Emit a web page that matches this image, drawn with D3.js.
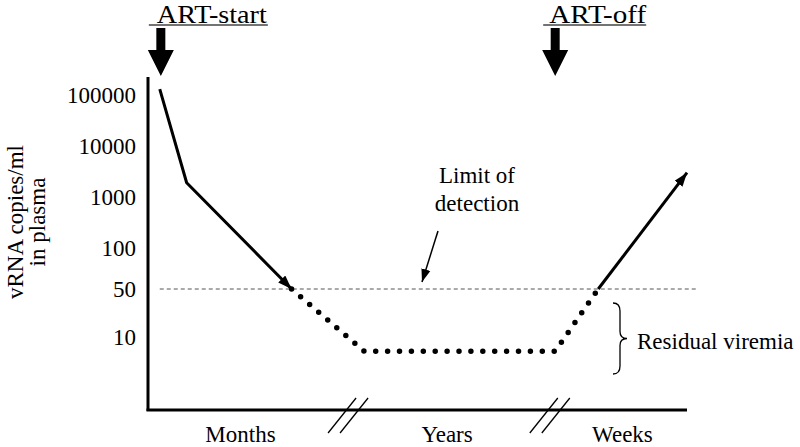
<html>
<head>
<meta charset="utf-8">
<title>Viral load under ART</title>
<style>
  body { margin: 0; background: #fff; }
  svg text { font-family: "Liberation Serif", "Times New Roman", serif; fill: #000; }
</style>
</head>
<body>
<div id="chart"></div>
<script src="https://cdn.jsdelivr.net/npm/d3@7"></script>
<script>
// schematic time runs 0..100 along the x axis, viral load in copies/ml
var yTicks = [10, 50, 100, 1000, 10000, 100000];
var treated = [{t: 2, v: 130000}, {t: 7, v: 1900}, {t: 26.5, v: 50}];
var residual = [{t: 26.5, v: 50}, {t: 40, v: 5}, {t: 75.5, v: 5}, {t: 83.5, v: 50}];
var rebound = [{t: 83.5, v: 50}, {t: 100, v: 3000}];
var detectionLimit = 50;
var events = [{label: "ART-start", t: 2.2}, {label: "ART-off", t: 75.5}];
var phases = [{label: "Months", t: 17}, {label: "Years", t: 55.4}, {label: "Weeks", t: 88}];
var breaks = [37, 74.5];

var width = 800, height = 447;

var svg = d3.select("#chart").append("svg")
    .attr("width", width)
    .attr("height", height);

var x = d3.scaleLinear().domain([0, 100]).range([149, 687]);
// the picture squeezes the decades unevenly, so the log scale is piecewise
var y = d3.scaleLog()
    .domain([1, 10, 50, 100, 1000, 10000, 100000, 1000000])
    .range([384, 337, 289, 248, 197, 146, 95, 44]);

var defs = svg.append("defs");
defs.append("marker")
    .attr("id", "head")
    .attr("viewBox", "0 -5 14 10")
    .attr("refX", 14).attr("refY", 0)
    .attr("markerWidth", 14).attr("markerHeight", 10)
    .attr("markerUnits", "userSpaceOnUse")
    .attr("orient", "auto")
    .append("path").attr("d", "M0,-5L14,0L0,5Z").attr("fill", "#000");
defs.append("marker")
    .attr("id", "thin")
    .attr("viewBox", "0 -5 14 10")
    .attr("refX", 14).attr("refY", 0)
    .attr("markerWidth", 13).attr("markerHeight", 10)
    .attr("markerUnits", "userSpaceOnUse")
    .attr("orient", "auto")
    .append("path").attr("d", "M0,-5L14,0L0,5Z").attr("fill", "#000");

// axes lines
svg.append("line")
    .attr("x1", x(0) - 1).attr("x2", x(0) - 1)
    .attr("y1", 77).attr("y2", 411)
    .attr("stroke", "#000").attr("stroke-width", 3);
svg.append("line")
    .attr("x1", x(0) - 2.5).attr("x2", x(100))
    .attr("y1", 410).attr("y2", 410)
    .attr("stroke", "#000").attr("stroke-width", 3);

var yAxis = svg.append("g")
    .attr("transform", "translate(" + (x(0) - 1) + ",0)")
    .call(d3.axisLeft(y).tickValues(yTicks).tickSize(0).tickPadding(12).tickFormat(d3.format("d")));
yAxis.select(".domain").remove();
yAxis.selectAll("text")
    .style("font-family", "'Liberation Serif', 'Times New Roman', serif")
    .style("font-size", "23px")
    .attr("fill", "#000");

// y label
var yl = svg.append("g").attr("transform", "translate(0,222) rotate(-90)");
yl.append("text").attr("x", 0).attr("y", 15)
    .attr("text-anchor", "middle").attr("dominant-baseline", "central")
    .style("font-size", "23px").text("vRNA copies/ml");
yl.append("text").attr("x", 0).attr("y", 37)
    .attr("text-anchor", "middle").attr("dominant-baseline", "central")
    .style("font-size", "23px").text("in plasma");

// axis breaks
breaks.forEach(function (b) {
    [-6, 6].forEach(function (off) {
        svg.append("line")
            .attr("x1", x(b) + off - 14).attr("y1", 433)
            .attr("x2", x(b) + off + 14).attr("y2", 398)
            .attr("stroke", "#000").attr("stroke-width", 1.3);
    });
});

// phase labels
svg.selectAll(".phase")
    .data(phases).enter()
    .append("text")
    .attr("class", "phase")
    .attr("x", function (d) { return x(d.t); })
    .attr("y", 442)
    .attr("text-anchor", "middle")
    .style("font-size", "23px")
    .text(function (d) { return d.label; });

// limit of detection
svg.append("line")
    .attr("x1", x(2)).attr("x2", x(102))
    .attr("y1", y(detectionLimit)).attr("y2", y(detectionLimit))
    .attr("stroke", "#555").attr("stroke-width", 1)
    .attr("stroke-dasharray", "4,3");

var line = d3.line()
    .x(function (d) { return x(d.t); })
    .y(function (d) { return y(d.v); });

svg.append("path")
    .datum(treated)
    .attr("d", line)
    .attr("fill", "none")
    .attr("stroke", "#000").attr("stroke-width", 3)
    .attr("stroke-linejoin", "round")
    .attr("marker-end", "url(#head)");

svg.append("path")
    .datum(residual)
    .attr("d", line)
    .attr("fill", "none")
    .attr("stroke", "#000").attr("stroke-width", 5.5)
    .attr("stroke-linecap", "round")
    .attr("stroke-dasharray", "0,11.9");

svg.append("path")
    .datum(rebound)
    .attr("d", line)
    .attr("fill", "none")
    .attr("stroke", "#000").attr("stroke-width", 3)
    .attr("marker-end", "url(#head)");

// annotation: limit of detection
svg.append("text").attr("x", 477).attr("y", 183)
    .attr("text-anchor", "middle").style("font-size", "23px").text("Limit of");
svg.append("text").attr("x", 477).attr("y", 211)
    .attr("text-anchor", "middle").style("font-size", "23px").text("detection");
svg.append("line")
    .attr("x1", 438).attr("y1", 231)
    .attr("x2", 422).attr("y2", y(detectionLimit) - 7)
    .attr("stroke", "#000").attr("stroke-width", 1.5)
    .attr("marker-end", "url(#thin)");

// residual viremia brace
var bx = 613, by0 = 303, by1 = 374, bm = (by0 + by1) / 2;
svg.append("path")
    .attr("d", "M" + bx + "," + by0 +
        " Q" + (bx + 7) + "," + by0 + " " + (bx + 7) + "," + (by0 + 8) +
        " L" + (bx + 7) + "," + (bm - 7) +
        " Q" + (bx + 7) + "," + bm + " " + (bx + 14) + "," + bm +
        " Q" + (bx + 7) + "," + bm + " " + (bx + 7) + "," + (bm + 7) +
        " L" + (bx + 7) + "," + (by1 - 8) +
        " Q" + (bx + 7) + "," + by1 + " " + bx + "," + by1)
    .attr("fill", "none").attr("stroke", "#000").attr("stroke-width", 1.3);
svg.append("text").attr("x", 637).attr("y", 349)
    .style("font-size", "23px").text("Residual viremia");

// ART events: underlined labels and big arrows
var ev = svg.selectAll(".event")
    .data(events).enter()
    .append("g")
    .attr("class", "event")
    .attr("transform", function (d) { return "translate(" + x(d.t) + ",0)"; });

ev.append("text")
    .attr("x", function (d, i) { return i === 0 ? -4 : -6; })
    .attr("y", 22.5)
    .attr("textLength", function (d, i) { return i === 0 ? 110 : 97; })
    .attr("lengthAdjust", "spacingAndGlyphs")
    .style("font-size", "25px")
    .text(function (d) { return d.label; });

ev.append("line")
    .attr("x1", -12)
    .attr("x2", function (d, i) { return i === 0 ? 107 : 91; })
    .attr("y1", 25).attr("y2", 25)
    .attr("stroke", "#444").attr("stroke-width", 1.5);

ev.append("path")
    .attr("d", "M-4.5,28 L4.5,28 L4.5,50 L13,50 L0,76 L-13,50 L-4.5,50 Z")
    .attr("fill", "#000");
</script>
</body>
</html>
